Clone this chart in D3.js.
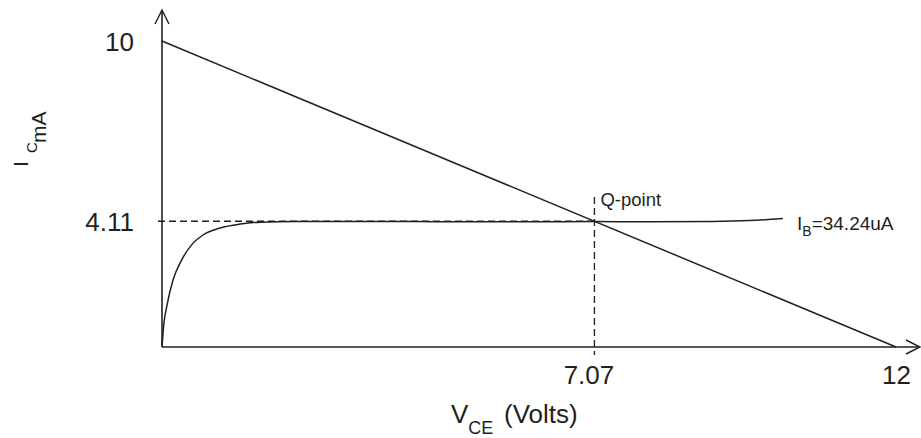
<!DOCTYPE html>
<html>
<head>
<meta charset="utf-8">
<script src="https://cdn.jsdelivr.net/npm/d3@7"></script>
<style>
  html, body { margin: 0; padding: 0; background: #fff; }
  svg { display: block; font-family: "Liberation Sans", Arial, sans-serif; }
</style>
</head>
<body>
<svg id="chart" width="921" height="438"></svg>
<script>
// ---- data ----
const loadLineV = [0, 12];          // V_CE endpoints of the load line
const loadLineI = [10, 0];          // I_C endpoints of the load line (mA)
const curveV = [0, 0.03, 0.077, 0.18, 0.32, 0.48, 0.67, 0.95, 1.28, 1.61, 2.2, 3, 4, 5, 6, 7.07, 8, 9, 9.6, 10.15];
const curveI = [0, 0.75, 1.32, 2.19, 2.84, 3.33, 3.66, 3.89, 4.02, 4.08, 4.1, 4.1, 4.1, 4.09, 4.09, 4.1, 4.09, 4.1, 4.13, 4.2];
const qPointV = 7.07;
const qPointI = 4.11;
const yTickValues = [10, 4.11];
const yTickLabels = ["10", "4.11"];
const xTickValues = [7.07, 12];
const xTickLabels = ["7.07", "12"];

// ---- layout ----
const svg = d3.select("#chart");
const ink = "#231f20";
const x = d3.scaleLinear().domain([0, 12]).range([162, 896]);
const y = d3.scaleLinear().domain([0, 10]).range([347, 41]);

// axes lines with arrows
svg.append("line").attr("x1", x(0)).attr("y1", y(0)).attr("x2", 919).attr("y2", y(0))
  .attr("stroke", ink).attr("stroke-width", 1.6);
svg.append("line").attr("x1", x(0)).attr("y1", y(0)).attr("x2", x(0)).attr("y2", 11)
  .attr("stroke", ink).attr("stroke-width", 1.6);
svg.append("path").attr("d", `M${x(0)-7},24 L${x(0)},10 L${x(0)+7},24`)
  .attr("fill", "none").attr("stroke", ink).attr("stroke-width", 1.4);
svg.append("path").attr("d", `M906,${y(0)-7} L920,${y(0)} L906,${y(0)+7}`)
  .attr("fill", "none").attr("stroke", ink).attr("stroke-width", 1.4);

// tick labels via d3 axes
const yAxis = d3.axisLeft(y).tickValues(yTickValues).tickSize(0)
  .tickFormat((d, i) => yTickLabels[i]);
const gy = svg.append("g").attr("transform", `translate(${x(0) - 25},0)`).call(yAxis);
gy.select(".domain").remove();
gy.selectAll("text").attr("font-size", 26).attr("fill", ink)
  .attr("font-family", "Liberation Sans, Arial, sans-serif").attr("dy", "0.36em");

const xAxis = d3.axisBottom(x).tickValues(xTickValues).tickSize(0)
  .tickFormat((d, i) => xTickLabels[i]);
const gx = svg.append("g").attr("transform", `translate(0,${y(0) + 16})`).call(xAxis);
gx.select(".domain").remove();
gx.selectAll("text").attr("font-size", 26).attr("fill", ink)
  .attr("font-family", "Liberation Sans, Arial, sans-serif").attr("dy", "0.71em")
  .attr("dx", (d) => d === qPointV ? -6 : 0);

// dashed guide lines
svg.append("line").attr("x1", x(0) - 4).attr("y1", y(qPointI)).attr("x2", x(qPointV)).attr("y2", y(qPointI))
  .attr("stroke", ink).attr("stroke-width", 1.3).attr("stroke-dasharray", "7,4");
svg.append("line").attr("x1", x(qPointV)).attr("y1", 197).attr("x2", x(qPointV)).attr("y2", y(0) + 8)
  .attr("stroke", ink).attr("stroke-width", 1.3).attr("stroke-dasharray", "7,4");

// load line
svg.append("line")
  .attr("x1", x(loadLineV[0])).attr("y1", y(loadLineI[0]))
  .attr("x2", x(loadLineV[1])).attr("y2", y(loadLineI[1]))
  .attr("stroke", ink).attr("stroke-width", 1.5);

// characteristic curve
const pts = curveV.map((v, i) => [v, curveI[i]]);
svg.append("path").datum(pts)
  .attr("d", d3.line().x(d => x(d[0])).y(d => y(d[1])).curve(d3.curveMonotoneX))
  .attr("fill", "none").attr("stroke", ink).attr("stroke-width", 1.5);

// Q-point label
svg.append("text").attr("x", x(qPointV) + 6).attr("y", 206)
  .attr("font-size", 18.5).attr("fill", ink).text("Q-point");

// I_B label
const ib = svg.append("text").attr("x", 797).attr("y", 230).attr("font-size", 19).attr("fill", ink);
ib.append("tspan").text("I");
ib.append("tspan").attr("font-size", 14).attr("dy", 6).text("B");
ib.append("tspan").attr("dy", -6).text("=34.24uA");

// x-axis title
const xt = svg.append("text").attr("x", 451).attr("y", 423).attr("font-size", 26).attr("fill", ink);
xt.append("tspan").text("V");
xt.append("tspan").attr("font-size", 18).attr("dy", 11).text("CE");
xt.append("tspan").attr("x", 504).attr("dy", -11).text("(Volts)");

// y-axis title (rotated)
const yg = svg.append("g").attr("transform", "rotate(-90)");
yg.append("text").attr("x", -167).attr("y", 28).attr("font-size", 21).attr("fill", ink).text("I");
yg.append("text").attr("x", -153).attr("y", 37).attr("font-size", 15).attr("fill", ink).text("C");
yg.append("text").attr("x", -143).attr("y", 46).attr("font-size", 21).attr("fill", ink).text("mA");
</script>
</body>
</html>
